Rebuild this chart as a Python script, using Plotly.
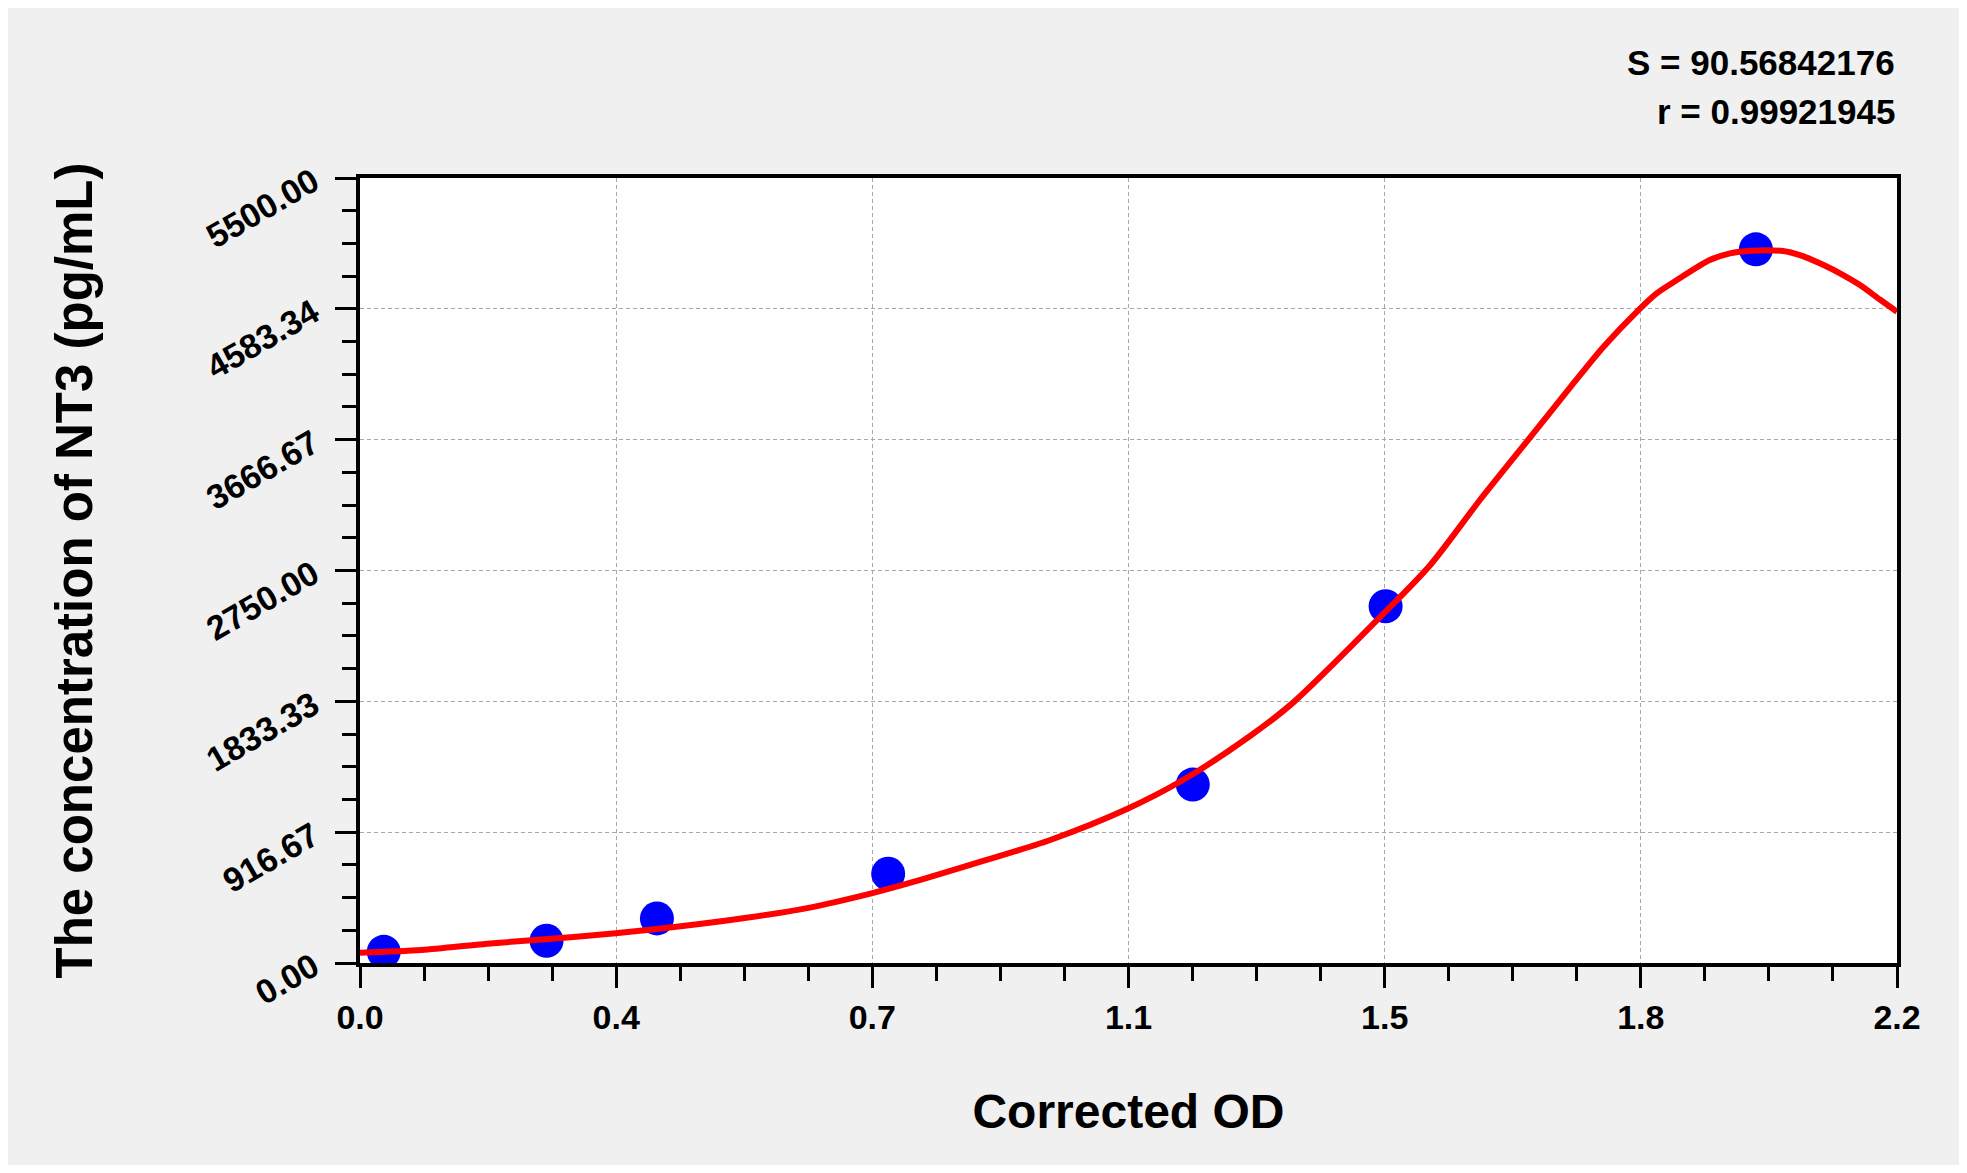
import plotly.graph_objects as go

# standards
od = [0.034, 0.267, 0.425, 0.756, 1.192, 1.468, 1.998]
conc = [78.125, 156.25, 312.5, 625, 1250, 2500, 5000]

# fitted curve
fit_od = [0.0, 0.088, 0.182, 0.270, 0.366, 0.456, 0.548, 0.638, 0.732, 0.797,
          0.892, 0.988, 1.097, 1.178, 1.274, 1.336, 1.463, 1.532, 1.603, 1.670,
          1.737, 1.780, 1.830, 1.856, 1.885, 1.932, 1.961, 1.990, 2.037, 2.061,
          2.095, 2.123, 2.147, 2.176, 2.2]
fit_conc = [72, 91, 135, 168, 208, 255, 313, 383, 488, 575,
            715, 862, 1077, 1282, 1590, 1826, 2438, 2789, 3244, 3653,
            4062, 4318, 4575, 4692, 4785, 4925, 4972, 4990, 4988, 4960,
            4890, 4820, 4750, 4647, 4563]

y_ticks = [0, 916.67, 1833.33, 2750, 3666.67, 4583.34, 5500]
y_labels = ["0.00", "916.67", "1833.33", "2750.00", "3666.67", "4583.34", "5500.00"]

S_txt = "S = 90.56842176"
r_txt = "r = 0.99921945"

font = "Liberation Sans, Arial, sans-serif"

fig = go.Figure()
fig.add_trace(go.Scatter(x=od, y=conc, mode="markers",
                         marker=dict(color="#0000FF", size=34),
                         showlegend=False))
fig.add_trace(go.Scatter(x=fit_od, y=fit_conc, mode="lines",
                         line=dict(color="#FF0000", width=6, shape="spline", smoothing=0.8),
                         showlegend=False))

fig.update_xaxes(
    range=[0, 2.2], tickmode="linear", tick0=0, dtick=2.2 / 6, tickformat=".1f",
    showline=True, linecolor="black", linewidth=4, mirror=True,
    ticks="outside", ticklen=21, tickwidth=3, tickcolor="black",
    minor=dict(dtick=2.2 / 24, tick0=0, ticks="outside", ticklen=14,
               tickwidth=3, tickcolor="black", showgrid=False),
    showgrid=True, gridcolor="#A8A8A8", gridwidth=1, griddash="4px,3px",
    zeroline=False,
    tickfont=dict(family=font, size=34, color="black", weight="bold"),
    ticklabelstandoff=0,
    title=dict(text="<b>Corrected OD</b>", standoff=61,
               font=dict(family=font, size=48, color="black")),
)
fig.update_yaxes(
    range=[0, 5500], tickmode="array", tickvals=y_ticks, ticktext=y_labels,
    tickangle=-30,
    showline=True, linecolor="black", linewidth=4, mirror=True,
    ticks="outside", ticklen=21, tickwidth=3, tickcolor="black",
    minor=dict(dtick=5500 / 24, tick0=0, ticks="outside", ticklen=14,
               tickwidth=3, tickcolor="black", showgrid=False),
    showgrid=True, gridcolor="#A8A8A8", gridwidth=1, griddash="4px,3px",
    zeroline=False,
    tickfont=dict(family=font, size=34, color="black", weight="bold"),
    ticklabelstandoff=15,
    title=dict(text="<b>The concentration of NT3 (pg/mL)</b>", standoff=92,
               font=dict(family=font, size=51, color="black")),
)

fig.add_annotation(text="<b>" + S_txt + "</b>", xref="paper", yref="paper",
                   x=1.0, y=1.0, xanchor="right", yanchor="bottom", yshift=94,
                   showarrow=False, font=dict(family=font, size=35, color="black"))
fig.add_annotation(text="<b>" + r_txt + "</b>", xref="paper", yref="paper",
                   x=1.0, y=1.0, xanchor="right", yanchor="bottom", yshift=45,
                   showarrow=False, font=dict(family=font, size=35, color="black"))

# page has an 8px body margin, so shrink the figure to fit the window
fig.update_layout(
    width=1951, height=1157,
    paper_bgcolor="#F0F0F0", plot_bgcolor="white",
    margin=dict(l=352, r=62, t=170, b=202),
    font=dict(family=font, color="black"),
)

fig.write_html("out.html")
